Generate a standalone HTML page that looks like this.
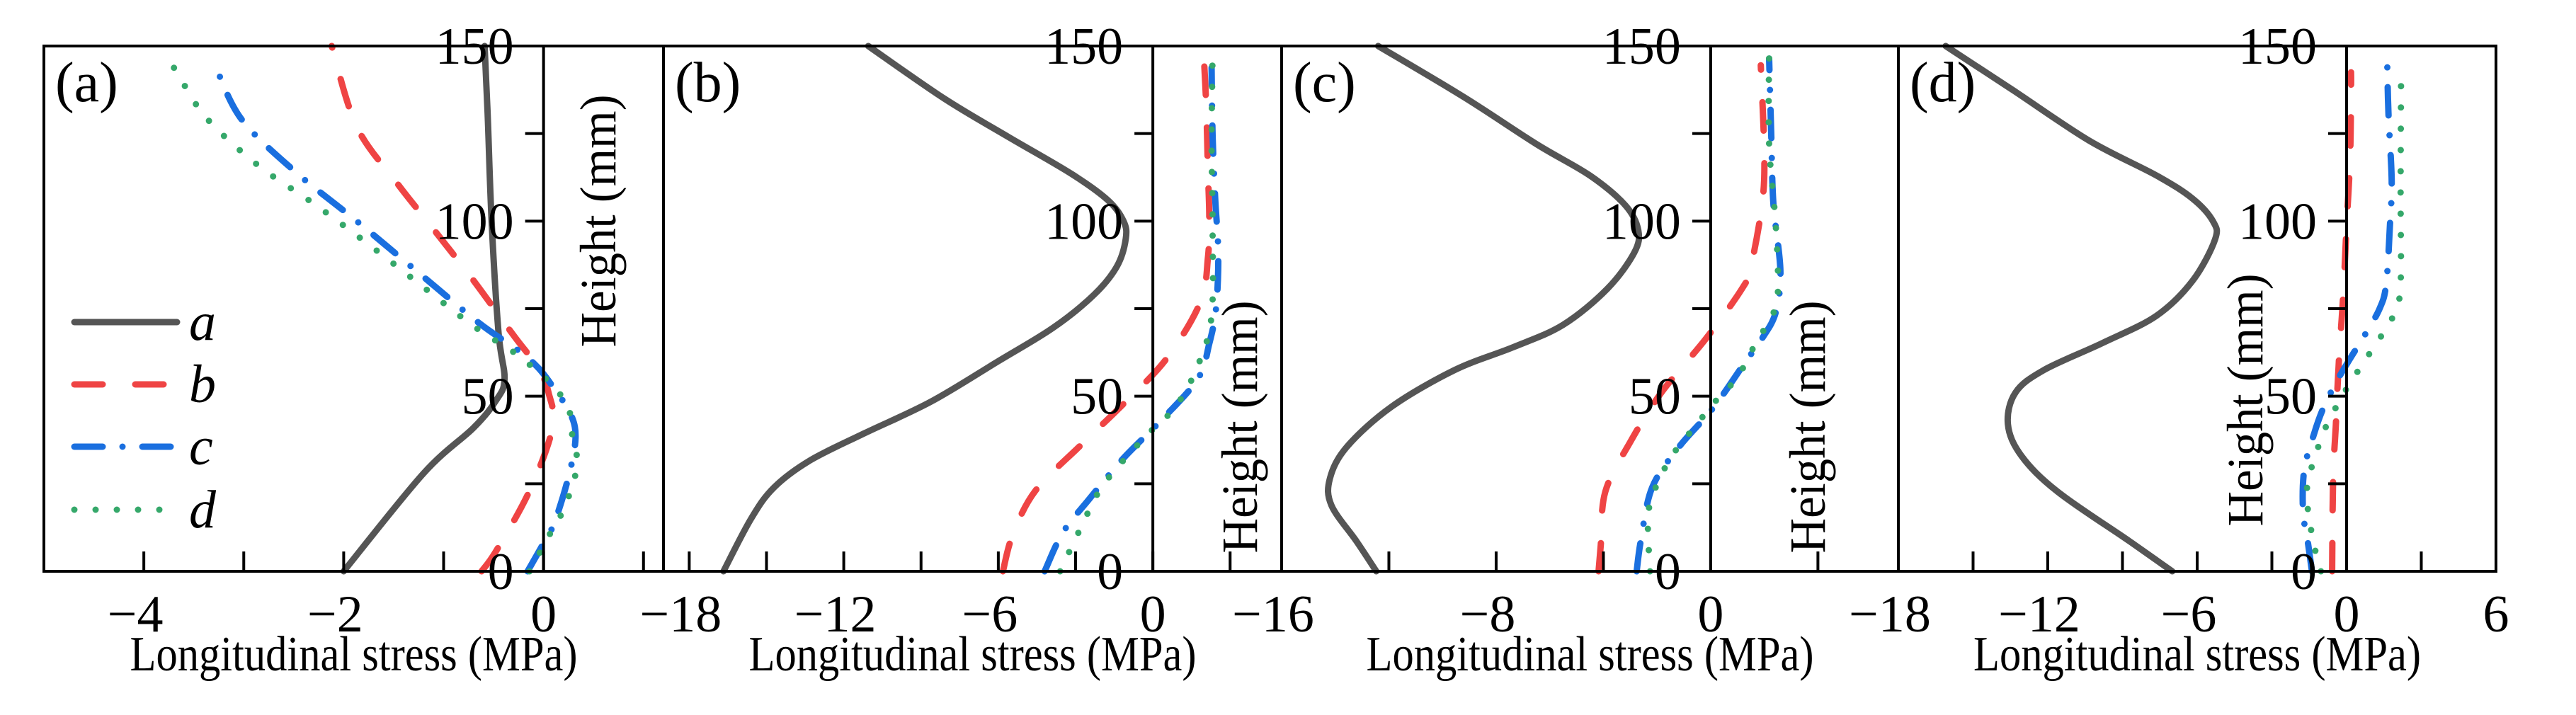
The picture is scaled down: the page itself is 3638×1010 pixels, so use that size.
<!DOCTYPE html>
<html><head><meta charset="utf-8"><style>
html,body{margin:0;padding:0;background:#fff;}
svg{display:block;}
text{font-family:"Liberation Serif","Times New Roman",serif;fill:#000;}
</style></head><body>
<svg id="chart" width="3638" height="1010" viewBox="0 0 3638 1010" xmlns="http://www.w3.org/2000/svg"></svg>
<script>
// ---------- data ----------
const panelLabels = ["(a)","(b)","(c)","(d)"];
const seriesNames = ["a","b","c","d"];
const xMin = [-5,-19,-16,-18];
const xMax = [1.2,5,7,6];
const xTicks = [[-4,-3,-2,-1,0,1],[-18,-15,-12,-9,-6,-3,0,3],[-16,-12,-8,-4,0,4],[-18,-15,-12,-9,-6,-3,0,3,6]];
const xTickLabels = [[-4,-2,0],[-18,-12,-6,0],[-16,-8,0],[-18,-12,-6,0,6]];
const yTicks = [0,25,50,75,100,125,150];
const yTickLabels = [0,50,100,150];

// panel (a)
const aH_a=[0,28,41,49,55,68,100,131,150];
const aV_a=[-2.0,-1.2,-0.7,-0.47,-0.39,-0.45,-0.52,-0.56,-0.59];
const aH_b=[0,6,23,41,51,58,67,83,98,111,127,150];
const aV_b=[-0.62,-0.47,-0.14,0.09,0.05,-0.05,-0.29,-0.7,-1.11,-1.47,-1.87,-2.12];
const aH_c=[0,8,14,27,38,45,52,58,63,71,85,100,114,129,144];
const aV_c=[-0.16,0,0.11,0.25,0.32,0.27,0.11,-0.05,-0.25,-0.65,-1.24,-1.87,-2.48,-3.02,-3.28];
const aH_d=[0,12,17.5,24,31,38,44.6,50,55,59,63,70,82,94,105,116,129,140,146];
const aV_d=[-0.14,0.09,0.2,0.28,0.34,0.29,0.27,0.18,0.02,-0.14,-0.32,-0.7,-1.24,-1.78,-2.3,-2.86,-3.36,-3.62,-3.74];
// panel (b)
const bH_a=[0,15,24,31.7,39.4,48.5,60,69.6,79,87,95,100,106,113.5,124,135,150];
const bV_a=[-16.67,-15.6,-14.7,-13.3,-11.2,-8.6,-6.0,-3.86,-2.28,-1.4,-1.05,-1.14,-1.75,-3.16,-5.6,-8.1,-11.05];
const bH_b=[0,10.4,23,36,47.8,60.7,76.8,89.7,101,114,133.5,149.6];
const bV_b=[-5.82,-5.44,-4.56,-2.8,-1.14,0.53,1.84,2.14,2.19,2.14,2.07,1.96];
const bH_c=[0,11,20.7,32.3,43.3,55,65,75.5,91,106.4,124.5,143.8];
const bV_c=[-4.2,-3.5,-2.46,-1.14,0.35,1.75,2.19,2.46,2.54,2.42,2.32,2.28];
const bH_d=[0,12.4,24.6,38,47,58.8,73,98.7,122,148.7];
const bV_d=[-3.6,-2.8,-1.93,-0.35,0.88,1.75,2.28,2.32,2.28,2.32];
// panel (c)
const cH_a=[0,8.5,18.8,26.5,35.6,47,57.5,64,70.4,80.7,91,97.4,104.5,113,122,135.4,150];
const cV_a=[-12.47,-13.2,-14.14,-14.2,-13.56,-11.9,-9.54,-7.36,-5.5,-3.85,-2.85,-2.7,-3.18,-4.5,-6.5,-9.2,-12.4];
const cH_b=[0,7.2,22.7,36.9,51,66.5,80.7,87,105,119,144.5];
const cV_b=[-4.18,-4.1,-3.93,-3.0,-1.84,-0.17,1.17,1.5,1.92,2.0,1.87];
const cH_c=[0,9,24,35.6,46.5,59.4,66.5,74,85.8,105,124.5,146.4];
const cV_c=[-2.76,-2.6,-2.18,-1.17,0.08,1.26,1.92,2.43,2.6,2.34,2.26,2.18];
const cH_d=[0,13.7,21.4,32.3,41.4,48.5,55.5,65,71.6,78.7,98.7,122,147.7];
const cV_d=[-2.26,-2.34,-2.18,-1.5,-0.58,0.17,1.0,1.67,2.18,2.5,2.43,2.18,2.18];
// panel (d)
const dH_a=[0,8.5,22.7,33,42,51,57.5,65.2,73,83,94.8,100,106.4,113,123,137.4,150];
const dV_a=[-7.0,-8.7,-11.6,-13.06,-13.6,-13.3,-12.15,-9.8,-7.63,-6.18,-5.28,-5.37,-6.18,-7.63,-10.34,-13.4,-16.1];
const dH_b=[0,26.5,42,60,79.4,98.7,118,137.4,142.5];
const dV_b=[-0.58,-0.54,-0.43,-0.31,-0.13,0,0.14,0.18,0.18];
const dH_c=[0,9,17,29,39.4,46.5,54.2,60.7,67,74.9,82,98.7,111.6,131,146.4];
const dV_c=[-1.39,-1.57,-1.75,-1.7,-1.3,-0.94,-0.4,0.14,0.69,1.32,1.59,1.74,1.81,1.68,1.63];
const dH_d=[0,7.2,14.3,21.4,27.8,39.4,46,51.3,56.8,62.6,68.4,74.2,82,109,143.8];
const dV_d=[-1.03,-1.3,-1.48,-1.6,-1.48,-0.94,-0.49,-0.07,0.42,0.96,1.5,1.95,2.17,2.17,2.19];

const heights=[[aH_a,aH_b,aH_c,aH_d],[bH_a,bH_b,bH_c,bH_d],[cH_a,cH_b,cH_c,cH_d],[dH_a,dH_b,dH_c,dH_d]];
const values=[[aV_a,aV_b,aV_c,aV_d],[bV_a,bV_b,bV_c,bV_d],[cV_a,cV_b,cV_c,cV_d],[dV_a,dV_b,dV_c,dV_d]];

// ---------- layout ----------
const NS="http://www.w3.org/2000/svg";
const svg=document.getElementById('chart');
const panelLeft=[62,937,1810,2681];
const panelRight=[937,1810,2681,3525];
const top_=65,bottom=807;
const styles=[
 {stroke:"#555555",dash:null,cap:"round",w:9},
 {stroke:"#ef4444",dash:"40 46",cap:"round",w:9},
 {stroke:"#1a6fdf",dash:"40 28 0 28",cap:"round",w:9},
 {stroke:"#35a86a",dash:"0 30",cap:"round",w:9}
];
function el(tag,attrs,parent){const e=document.createElementNS(NS,tag);for(const k in attrs)e.setAttribute(k,attrs[k]);(parent||svg).appendChild(e);return e;}
function txt(str,x,y,size,anchor,sx,parent,italic){
 const t=el('text',{transform:`translate(${x},${y}) scale(${sx},1)`,'font-size':size,'text-anchor':anchor},parent);
 if(italic)t.setAttribute('font-style','italic');
 t.textContent=str;return t;}
function ys(h){return bottom-(h/150)*(bottom-top_);}
function smooth(pts){
 let d='M'+pts[0][0].toFixed(1)+' '+pts[0][1].toFixed(1);
 for(let i=0;i<pts.length-1;i++){
  const p0=pts[i-1]||pts[i],p1=pts[i],p2=pts[i+1],p3=pts[i+2]||p2;
  const c1=[p1[0]+(p2[0]-p0[0])/6,p1[1]+(p2[1]-p0[1])/6];
  const c2=[p2[0]-(p3[0]-p1[0])/6,p2[1]-(p3[1]-p1[1])/6];
  d+=`C${c1[0].toFixed(1)} ${c1[1].toFixed(1)} ${c2[0].toFixed(1)} ${c2[1].toFixed(1)} ${p2[0].toFixed(1)} ${p2[1].toFixed(1)}`;
 }
 return d;}

for(let p=0;p<4;p++){
 const L=panelLeft[p],R=panelRight[p];
 const xs=v=>L+(v-xMin[p])/(xMax[p]-xMin[p])*(R-L);
 const g=el('g',{});
 
 
 for(let s=0;s<4;s++){
  const H=heights[p][s],V=values[p][s];
  const pts=H.map((h,i)=>[xs(V[i]),ys(h)]);
  const st=styles[s];
  const path=el('path',{d:smooth(pts),fill:'none',stroke:st.stroke,'stroke-width':st.w,'stroke-linecap':st.cap,'stroke-linejoin':'round'},g);
  if(st.dash)path.setAttribute('stroke-dasharray',st.dash);
  
  
 }
 const fr=el('rect',{x:L,y:top_,width:R-L,height:bottom-top_,fill:'none',stroke:'#000','stroke-width':4},g);
 
 
 const x0=xs(0);
 const ax=el('line',{x1:x0,y1:top_,x2:x0,y2:bottom,stroke:'#000','stroke-width':4},g);
 
 
 yTicks.forEach(v=>{el('line',{x1:x0-26,y1:ys(v),x2:x0,y2:ys(v),stroke:'#000','stroke-width':4},g);});
 yTickLabels.forEach(v=>{const t=txt(String(v),x0-42,ys(v)+25,74,'end',1,g);
  
  });
 xTicks[p].forEach(v=>{el('line',{x1:xs(v),y1:bottom,x2:xs(v),y2:bottom-28,stroke:'#000','stroke-width':4},g);});
 xTickLabels[p].forEach(v=>{const s=v<0?'\u2212'+Math.abs(v):String(v);
  const t=txt(s,xs(v)-(v<0?12:0),892,74,'middle',1,g);
  
  });
 const xt=el('text',{x:(L+R)/2,y:947,'font-size':70,'text-anchor':'middle',textLength:632,lengthAdjust:'spacingAndGlyphs'},g);
 xt.textContent='Longitudinal stress (MPa)';
 
 
 const ycx=[845,1751,2553,3171][p], ycy=[312,603,603,565][p];
 const yt=el('text',{x:0,y:0,transform:`translate(${ycx+24},${ycy}) rotate(-90)`,'font-size':72,'text-anchor':'middle',textLength:357,lengthAdjust:'spacingAndGlyphs'},g);
 yt.textContent='Height (mm)';
 
 
 const pl=txt(panelLabels[p],L+16,143,80,'start',1,g);
 
 
}
const lg=el('g',{});


const legY=[455,543,631,720];
for(let s=0;s<4;s++){
 const st=styles[s];
 const ln=el('line',{x1:105,y1:legY[s],x2:250,y2:legY[s],stroke:st.stroke,'stroke-width':st.w,'stroke-linecap':st.cap},lg);
 if(st.dash)ln.setAttribute('stroke-dasharray',st.dash);
 
 
 const t=txt(seriesNames[s],267,legY[s]+25,76,'start',1,lg,true);
 
 
}
</script>
</body></html>
